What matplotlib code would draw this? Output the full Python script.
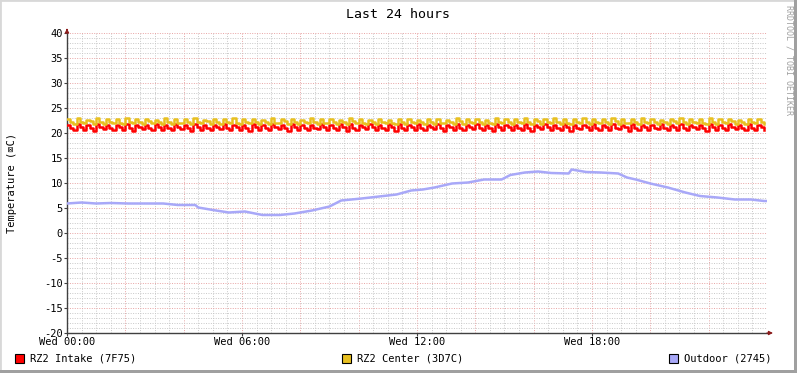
import numpy as np
import matplotlib
matplotlib.use("Agg")
import matplotlib.pyplot as plt
from matplotlib.patches import Rectangle

# ---- data (hours since Wed 00:00, degrees C) ----
intake = [
    21.7, 21.1, 20.6, 21.8, 21.2, 20.7, 21.6, 21.0, 20.5, 21.9, 21.2, 20.8, 21.7, 21.1, 20.6, 21.6, 21.3, 20.7, 21.8, 21.0, 20.5, 21.7, 21.2, 20.8, 21.6, 21.1, 20.6,
    21.8, 21.2, 20.7, 21.7, 21.0, 20.6, 21.9, 21.3, 20.8, 21.6, 21.1, 20.5, 21.8, 21.2, 20.7, 21.7, 21.0, 20.6, 21.6, 21.2, 20.8, 21.9, 21.1, 20.6, 21.7, 21.3, 20.7,
    21.6, 21.1, 20.5, 21.8, 21.2, 20.7, 21.7, 21.0, 20.6, 21.9, 21.2, 20.8, 21.6, 21.1, 20.5, 21.8, 21.3, 20.7, 21.7, 21.1, 20.6, 21.6, 21.0, 20.8, 21.8, 21.2, 20.6,
    21.7, 21.1, 20.7, 21.9, 21.2, 20.5, 21.8, 21.0, 20.6, 21.7, 21.3, 20.8, 21.9, 21.2, 20.6, 21.6, 21.1, 20.7, 21.8, 21.2, 20.5, 21.9, 21.0, 20.6, 21.7, 21.2, 20.7,
    21.8, 21.1, 20.6, 21.6, 21.2, 20.8, 21.9, 21.0, 20.5, 21.7, 21.3, 20.7, 21.8, 21.1, 20.6, 21.6, 21.2, 20.8, 21.9, 21.1, 20.6, 21.7, 21.0, 20.5, 21.8, 21.2, 20.7,
    21.7, 21.2, 20.6, 21.6, 21.1, 20.7, 21.8, 21.0, 20.5, 21.7, 21.2, 20.8, 21.9, 21.3, 20.6, 21.6, 21.1, 20.7, 21.8, 21.2, 20.5, 21.7, 21.0, 20.8, 21.6, 21.2, 20.6,
    21.8, 21.1, 20.7, 21.7, 21.2, 20.6, 21.9, 21.0, 20.8, 21.6, 21.3, 20.5, 21.8, 21.1, 20.7, 21.7, 21.2, 20.6, 21.6, 21.1, 20.8, 21.8, 21.0, 20.6, 21.7, 21.2, 20.7,
    21.9, 21.1, 20.6, 21.7, 21.2, 20.8, 21.6, 21.0, 20.5, 21.8, 21.3, 20.7, 21.7, 21.1, 20.6, 21.9, 21.2, 20.8, 21.6, 21.1, 20.6, 21.8, 21.0, 20.7, 21.7, 21.2, 20.6,
]
center = [
    22.9, 22.3, 21.9, 23.0, 22.2, 22.0, 22.7, 22.4, 21.9, 23.1, 22.2, 21.8, 22.8, 22.3, 22.0, 22.9, 22.1, 21.9, 23.0, 22.3, 22.0, 22.8, 22.2, 21.8, 22.9, 22.4, 22.0,
    22.7, 22.2, 21.9, 23.0, 22.3, 21.8, 22.8, 22.1, 22.0, 22.9, 22.3, 21.9, 23.1, 22.2, 22.0, 22.7, 22.4, 21.8, 22.9, 22.2, 21.9, 22.8, 22.3, 22.0, 23.0, 22.1, 21.9,
    22.8, 22.3, 22.0, 22.9, 22.2, 21.8, 22.7, 22.3, 21.9, 23.0, 22.1, 22.0, 22.8, 22.4, 21.9, 22.9, 22.2, 21.8, 22.7, 22.3, 22.0, 23.1, 22.2, 21.9, 22.8, 22.1, 22.0,
    22.9, 22.3, 21.9, 22.7, 22.2, 21.8, 23.0, 22.4, 22.0, 22.8, 22.1, 21.9, 22.6, 22.3, 21.8, 22.9, 22.2, 22.0, 22.7, 22.1, 21.9, 22.8, 22.3, 21.8, 22.9, 22.2, 22.0,
    22.7, 22.2, 21.9, 22.8, 22.3, 21.8, 22.9, 22.1, 22.0, 22.7, 22.2, 21.9, 23.0, 22.4, 21.8, 22.8, 22.2, 22.0, 22.9, 22.3, 21.9, 22.7, 22.1, 21.8, 23.0, 22.3, 22.0,
    22.8, 22.2, 21.9, 22.9, 22.3, 22.0, 23.1, 22.2, 21.8, 22.8, 22.4, 21.9, 22.9, 22.2, 22.0, 23.0, 22.3, 21.9, 22.8, 22.1, 21.8, 22.9, 22.3, 22.0, 23.0, 22.2, 21.9,
    22.8, 22.3, 22.0, 22.9, 22.2, 21.9, 23.0, 22.4, 21.8, 22.9, 22.1, 22.0, 22.8, 22.3, 21.9, 23.0, 22.2, 22.0, 22.9, 22.3, 21.8, 22.7, 22.2, 21.9, 22.9, 22.4, 22.0,
    23.0, 22.2, 21.9, 22.8, 22.3, 22.0, 22.9, 22.1, 21.8, 23.0, 22.3, 21.9, 22.8, 22.2, 22.0, 22.9, 22.4, 21.9, 22.7, 22.2, 21.8, 22.9, 22.3, 22.0, 22.8, 22.2, 21.9,
]
outdoor_t = [0.0, 0.5, 1.0, 1.5, 2.1, 2.7, 3.3, 3.8, 4.4, 4.5, 5.0, 5.55, 6.1, 6.7, 7.3, 7.8, 8.4, 9.0, 9.4,
             10.1, 10.7, 11.3, 11.8, 12.2, 12.6, 13.2, 13.75, 14.3, 14.9, 15.2, 15.7, 16.15, 16.6, 17.2, 17.3,
             17.8, 18.3, 18.9, 19.2, 19.5, 20.0, 20.6, 21.2, 21.7, 22.3, 22.9, 23.45, 23.9, 24.0]
outdoor_v = [5.9, 6.1, 5.9, 6.0, 5.9, 5.9, 5.9, 5.6, 5.6, 5.1, 4.6, 4.1, 4.3, 3.6, 3.6, 3.9, 4.5, 5.3, 6.5,
             6.9, 7.3, 7.7, 8.5, 8.7, 9.1, 9.9, 10.1, 10.7, 10.7, 11.6, 12.1, 12.3, 12.0, 11.9, 12.7,
             12.2, 12.1, 11.9, 11.1, 10.7, 9.9, 9.1, 8.1, 7.4, 7.1, 6.7, 6.7, 6.4, 6.4]

tick_pos = [0, 6, 12, 18]
tick_labels = ["Wed 00:00", "Wed 06:00", "Wed 12:00", "Wed 18:00"]
legend_names = ["RZ2 Intake (7F75)", "RZ2 Center (3D7C)", "Outdoor (2745)"]
colors = ["#FF0000", "#E8C020", "#A8A8F8"]

mono = "DejaVu Sans Mono"
W, H = 797, 373
fig = plt.figure(figsize=(W / 100, H / 100), dpi=100)
fig.patch.set_facecolor("white")

# frame around the image like rrdtool
fig.patches.append(Rectangle((0, 0), 1, 1, transform=fig.transFigure, fill=False,
                             edgecolor="#D8D8D8", lw=2))
fig.patches.append(Rectangle((0, 0), 1, 3 / H, transform=fig.transFigure, color="#A0A0A0", lw=0))
fig.patches.append(Rectangle((1 - 3 / W, 0), 3 / W, 1, transform=fig.transFigure, color="#A0A0A0", lw=0))

x0, x1, y0, y1 = 67, 767, 33, 333
ax = fig.add_axes([x0 / W, 1 - y1 / H, (x1 - x0) / W, (y1 - y0) / H])
ax.set_xlim(0, 24)
ax.set_ylim(-20, 40)

# grids: minor every 30 min / 1 degree, major every 2 h / 5 degrees
for h in np.arange(0.5, 24, 0.5):
    c = "#E8A4A4" if h % 2 == 0 else "#C8C8C8"
    ax.axvline(h, color=c, lw=0.7, ls=(0, (1, 1.5)), zorder=1)
for v in range(-19, 41):
    c = "#E8A4A4" if v % 5 == 0 else "#C8C8C8"
    ax.axhline(v, color=c, lw=0.7, ls=(0, (1, 1.5)), zorder=1)

t_in = np.linspace(0, 24, len(intake), endpoint=False)
t_ce = np.linspace(0, 24, len(center), endpoint=False)
ax.plot(t_in, intake, drawstyle="steps-post", color=colors[0], lw=1.8, zorder=3)
ax.plot(t_ce, center, drawstyle="steps-post", color=colors[1], lw=1.8, zorder=4)
ax.plot(outdoor_t, outdoor_v, color=colors[2], lw=1.8, zorder=5)

for s in ["top", "right"]:
    ax.spines[s].set_visible(False)
for s in ["left", "bottom"]:
    ax.spines[s].set_color("#404040")
    ax.spines[s].set_linewidth(1.0)

ax.set_xticks(tick_pos)
ax.set_xticklabels(tick_labels, fontsize=7.5, family=mono)
ax.set_yticks(range(-20, 41, 5))
ax.set_yticklabels([str(v) for v in range(-20, 41, 5)], fontsize=7.5, family=mono)
ax.tick_params(length=2, width=0.8, color="#404040", pad=1)

# arrows
ax.annotate("", xy=(24.3, -20), xytext=(23.9, -20), annotation_clip=False,
            arrowprops=dict(arrowstyle="-|>", color="#8B1A1A", lw=0.8, mutation_scale=6))
ax.annotate("", xy=(0, 40.9), xytext=(0, 40), annotation_clip=False,
            arrowprops=dict(arrowstyle="-|>", color="#8B1A1A", lw=0.8, mutation_scale=6))

fig.text(398 / W, 1 - 14 / H, "Last 24 hours", ha="center", va="center", fontsize=9.5, family=mono)
fig.text(12 / W, 1 - 183 / H, "Temperature (\u2327C)", ha="center", va="center", rotation=90,
         fontsize=7.5, family=[mono, "DejaVu Sans"])
fig.text(789 / W, 1 - 5 / H, "RRDTOOL / TOBI OETIKER", ha="center", va="top", rotation=270,
         fontsize=6, family=mono, color="#A0A0A0")

# legend row
leg_x = [15, 342, 669]
for lx, name, c in zip(leg_x, legend_names, colors):
    fig.patches.append(Rectangle((lx / W, 1 - 363 / H), 9 / W, 9 / H, transform=fig.transFigure,
                                 facecolor=c, edgecolor="black", lw=0.8))
    fig.text((lx + 15) / W, 1 - 358.5 / H, name, ha="left", va="center", fontsize=7.5, family=mono)

fig.savefig("out.png", dpi=100)
